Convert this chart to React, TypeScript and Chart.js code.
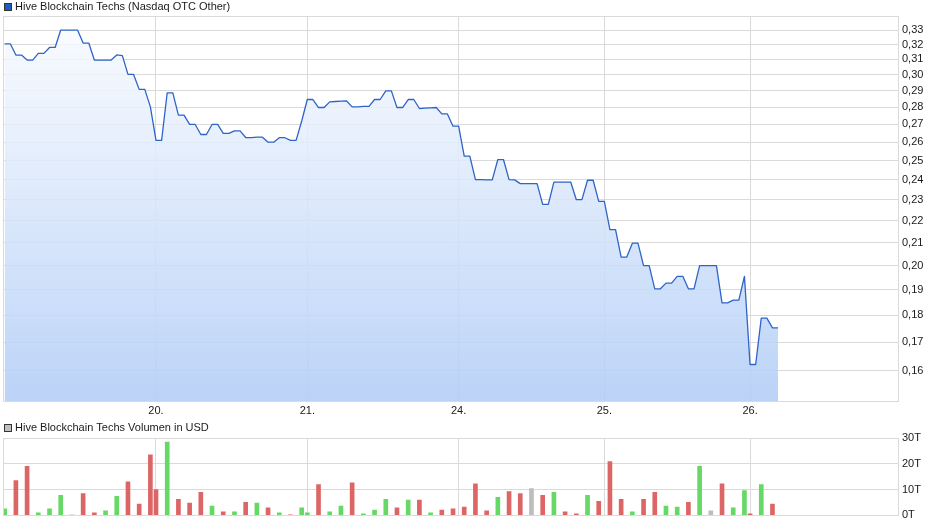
import React, { useEffect, useRef } from 'react';
import { Chart, registerables } from 'chart.js';

Chart.register(...registerables);

const FONT_FAMILY = '"Liberation Sans", Arial, sans-serif';
const TEXT_COLOR = '#1a1a1a';
const GRID_COLOR = '#dadada';

// Price series: 15-minute points, index 0 = start of day 19
const prices = [
  0.3205, 0.3205, 0.3129, 0.3129, 0.3096, 0.3096, 0.314, 0.314, 0.318, 0.318,
  0.33, 0.33, 0.33, 0.33, 0.321, 0.321, 0.3096, 0.3096, 0.3096, 0.3096,
  0.313, 0.3125, 0.3003, 0.3003, 0.2909, 0.2909, 0.2803,
  0.261, 0.261, 0.2888, 0.2888, 0.2754, 0.2754, 0.27, 0.27, 0.2643, 0.2643,
  0.27, 0.27, 0.2649, 0.2649, 0.2663, 0.2663, 0.2626, 0.2626, 0.2628, 0.2628,
  0.26, 0.26, 0.2625, 0.2625, 0.261, 0.261, 0.272,
  0.2847, 0.2847, 0.2799, 0.2799, 0.2833, 0.2835, 0.2837, 0.2838, 0.2803, 0.2803,
  0.2806, 0.2806, 0.2847, 0.2847, 0.29, 0.29, 0.2799, 0.2799, 0.2847, 0.2847,
  0.2793, 0.2795, 0.2797, 0.2799, 0.2761, 0.2761, 0.269,
  0.269, 0.2524, 0.2524, 0.2401, 0.2401, 0.24, 0.24, 0.2506, 0.2506, 0.2401,
  0.24, 0.2381, 0.2381, 0.2381, 0.2381, 0.2278, 0.2278, 0.2389, 0.2389, 0.2389,
  0.2389, 0.2301, 0.2301, 0.2398, 0.2398, 0.2293,
  0.2293, 0.2159, 0.2159, 0.2037, 0.2037, 0.2098, 0.2098, 0.2, 0.2, 0.1904,
  0.1904, 0.1927, 0.1927, 0.1955, 0.1955, 0.1904, 0.1904, 0.2, 0.2, 0.2,
  0.2, 0.1848, 0.1848, 0.1859, 0.1859, 0.1955,
  0.1621, 0.1621, 0.1789, 0.1789, 0.1752, 0.1752,
];

// Day boundaries (point index) and labels
const dayStarts = [27, 54, 81, 107, 133];
const dayLabels = ['20.', '21.', '24.', '25.', '26.'];

const priceTicks = [
  0.16, 0.17, 0.18, 0.19, 0.2, 0.21, 0.22, 0.23, 0.24, 0.25, 0.26, 0.27, 0.28,
  0.29, 0.3, 0.31, 0.32, 0.33,
];

// Volume bars (thousand USD), at point index, with direction u/d/n
const volIdx = [
  0, 2, 4, 6, 8, 10, 12, 14, 16, 18, 20, 22, 24, 26,
  27, 29, 31, 33, 35, 37, 39, 41, 43, 45, 47, 49, 51, 53,
  54, 56, 58, 60, 62, 64, 66, 68, 70, 72, 74, 76, 78, 80,
  82, 84, 86, 88, 90, 92, 94, 96, 98, 100, 102, 104, 106,
  108, 110, 112, 114, 116, 118, 120, 122, 124, 126, 128, 130, 132,
  133, 135, 137,
];
const volValues = [
  2.5, 13.5, 19, 1.0, 2.5, 7.75, 0.25, 8.5, 1.0, 1.75, 7.4, 13, 4.4, 23.5,
  10, 28.4, 6.25, 4.75, 8.9, 3.6, 1.4, 1.4, 5.1, 4.75, 2.9, 1.0, 0.25, 2.9,
  1.0, 11.9, 1.4, 3.6, 12.6, 0.6, 2.1, 6.25, 2.9, 5.9, 5.9, 1.0, 2.1, 2.5,
  3.25, 12.25, 1.75, 7.0, 9.25, 8.5, 10.4, 7.75, 8.9, 1.4, 0.6, 7.75, 5.5,
  20.9, 6.25, 1.4, 6.25, 8.9, 3.6, 3.25, 5.1, 19, 1.75, 12.25, 2.9, 9.6,
  0.6, 11.9, 4.4,
];
const volDir = [
  'u', 'd', 'd', 'u', 'u', 'u', 'n', 'd', 'd', 'u', 'u', 'd', 'd', 'd',
  'd', 'u', 'd', 'd', 'd', 'u', 'd', 'u', 'd', 'u', 'd', 'u', 'd', 'u',
  'u', 'd', 'u', 'u', 'd', 'u', 'u', 'u', 'd', 'u', 'd', 'u', 'd', 'd',
  'd', 'd', 'd', 'u', 'd', 'd', 'n', 'd', 'u', 'd', 'd', 'u', 'd',
  'd', 'd', 'u', 'd', 'd', 'u', 'u', 'd', 'u', 'n', 'd', 'u', 'u',
  'd', 'u', 'd',
];
const volTicks = [0, 10, 20, 30];

const X_MIN = -0.3;
const X_MAX = 159.4;

const DIR_COLORS: Record<string, string> = { u: '#66d866', d: '#dc6666', n: '#bdbdbd' };

function framePlugin(label: string, boxColor: string, boxTop: number, baseline: number) {
  return {
    id: 'frameLegend',
    afterDraw(chart: any) {
      const { ctx, chartArea: a } = chart;
      ctx.save();
      ctx.strokeStyle = GRID_COLOR;
      ctx.lineWidth = 1;
      const l = Math.floor(a.left) + 0.5;
      const t = Math.floor(a.top) + 0.5;
      const r = Math.floor(a.right) + 0.5;
      const b = Math.floor(a.bottom) + 0.5;
      ctx.strokeRect(l, t, r - l, b - t);
      ctx.fillStyle = boxColor;
      ctx.fillRect(4, boxTop, 7, 7);
      ctx.strokeStyle = '#333';
      ctx.strokeRect(4.5, boxTop + 0.5, 7, 7);
      ctx.fillStyle = TEXT_COLOR;
      ctx.font = `11px ${FONT_FAMILY}`;
      ctx.textBaseline = 'alphabetic';
      ctx.textAlign = 'left';
      ctx.fillText(label, 15, baseline);
      ctx.restore();
    },
  };
}

function xScale(showLabels: boolean, height: number) {
  return {
    type: 'linear',
    min: X_MIN,
    max: X_MAX,
    offset: false,
    afterBuildTicks: (s: any) => {
      s.ticks = dayStarts.map((v) => ({ value: v }));
    },
    ticks: {
      display: showLabels,
      autoSkip: false,
      maxRotation: 0,
      padding: 3,
      color: TEXT_COLOR,
      font: { family: FONT_FAMILY, size: 11 },
      callback: (_v: any, i: number) => dayLabels[i],
    },
    grid: { color: GRID_COLOR, drawTicks: false, offset: false },
    border: { display: false },
    afterFit: (s: any) => {
      s.height = height;
    },
  };
}

export default function App() {
  const priceRef = useRef<HTMLCanvasElement>(null);
  const volRef = useRef<HTMLCanvasElement>(null);

  useEffect(() => {
    const priceChart = new Chart(priceRef.current as HTMLCanvasElement, {
      type: 'line',
      data: {
        datasets: [
          {
            data: prices.map((v, k) => ({ x: k, y: v })),
            borderColor: '#2e64c8',
            borderWidth: 1.3,
            borderJoinStyle: 'round',
            pointRadius: 0,
            tension: 0,
            fill: 'start',
            backgroundColor: (c: any) => {
              const a = c.chart.chartArea;
              if (!a) return 'rgba(190,212,248,0.6)';
              const g = c.chart.ctx.createLinearGradient(0, a.top, 0, a.bottom);
              g.addColorStop(0, 'rgba(250,252,255,0.85)');
              g.addColorStop(1, 'rgba(178,205,246,0.88)');
              return g;
            },
          },
        ],
      },
      options: {
        animation: false,
        responsive: false,
        devicePixelRatio: 1,
        layout: { padding: { left: 3, top: 16, right: 0, bottom: 0 } },
        plugins: { legend: { display: false }, tooltip: { enabled: false } },
        scales: {
          x: xScale(true, 19) as any,
          y: {
            type: 'logarithmic',
            position: 'right',
            min: 0.15,
            max: 0.34,
            afterBuildTicks: (s: any) => {
              s.ticks = priceTicks.map((v) => ({ value: v }));
            },
            ticks: {
              autoSkip: false,
              padding: 4,
              color: TEXT_COLOR,
              font: { family: FONT_FAMILY, size: 11 },
              callback: (_v: any, i: number) => priceTicks[i].toFixed(2).replace('.', ','),
            },
            grid: { color: GRID_COLOR, drawTicks: false },
            border: { display: false },
            afterFit: (s: any) => {
              s.width = 42;
            },
          } as any,
        },
      },
      plugins: [framePlugin('Hive Blockchain Techs (Nasdaq OTC Other)', '#1f5cc0', 3, 10)],
    });

    const volChart = new Chart(volRef.current as HTMLCanvasElement, {
      type: 'bar',
      data: {
        datasets: [
          {
            data: volIdx.map((x, i) => ({ x, y: volValues[i] })),
            backgroundColor: volDir.map((d) => DIR_COLORS[d]),
            barThickness: 4,
            borderWidth: 0,
          } as any,
        ],
      },
      options: {
        animation: false,
        responsive: false,
        devicePixelRatio: 1,
        layout: { padding: { left: 3, top: 18, right: 0, bottom: 0 } },
        plugins: { legend: { display: false }, tooltip: { enabled: false } },
        scales: {
          x: xScale(false, 9) as any,
          y: {
            type: 'linear',
            position: 'right',
            min: 0,
            max: 30,
            afterBuildTicks: (s: any) => {
              s.ticks = volTicks.map((v) => ({ value: v }));
            },
            ticks: {
              autoSkip: false,
              padding: 4,
              color: TEXT_COLOR,
              font: { family: FONT_FAMILY, size: 11 },
              callback: (_v: any, i: number) => `${volTicks[i]}T`,
            },
            grid: { color: GRID_COLOR, drawTicks: false },
            border: { display: false },
            afterFit: (s: any) => {
              s.width = 42;
            },
          } as any,
        },
      },
      plugins: [framePlugin('Hive Blockchain Techs Volumen in USD', '#c0c0c0', 4, 11)],
    });

    return () => {
      priceChart.destroy();
      volChart.destroy();
    };
  }, []);

  return (
    <div
      style={{
        position: 'absolute',
        left: 0,
        top: 0,
        width: 940,
        height: 526,
        background: '#fff',
        overflow: 'hidden',
      }}
    >
      <canvas
        ref={priceRef}
        width={940}
        height={420}
        style={{ position: 'absolute', left: 0, top: 0, display: 'block' }}
      />
      <canvas
        ref={volRef}
        width={940}
        height={106}
        style={{ position: 'absolute', left: 0, top: 420, display: 'block' }}
      />
    </div>
  );
}
